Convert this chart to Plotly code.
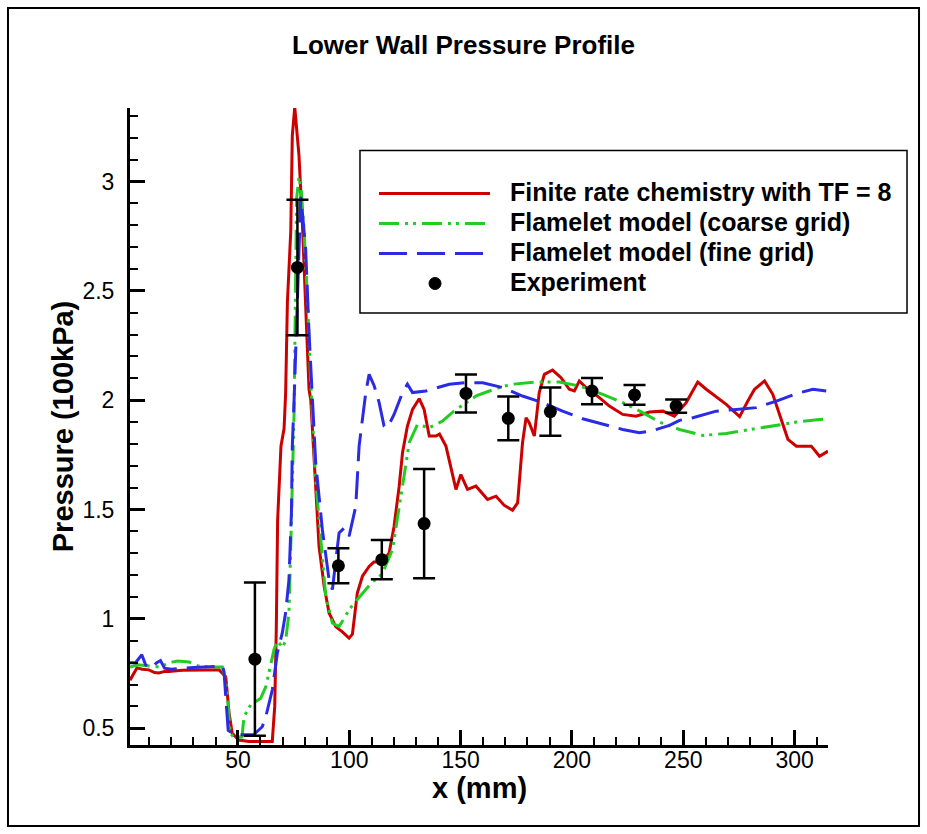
import plotly.graph_objects as go

# ---------------- data ----------------
red_x = [1.5, 3, 4.6, 7, 10, 12.5, 14.5, 17, 19, 25, 31, 36, 41.5, 44.5, 46, 47.4, 50.4, 55, 60, 65.4,
         66.5, 67.2, 67.8, 69.3, 70.7, 71.4, 72.2, 73.7, 74.4, 75.5, 77.4, 78.9, 80.4, 81.9, 82.7, 84.2,
         86.4, 88.7, 90.9, 93.9, 97, 99.9, 101.4, 103.6, 105.9, 108.9, 111, 114.9, 117.9, 120.1, 122.4,
         123.9, 126.1, 128.4, 131.4, 133.6, 135.9, 138.9, 140.5, 143.4, 145.6, 147.9, 150.1, 153.1, 156.9,
         162.1, 165.9, 169.5, 173.3, 175.6, 177.8, 179.4, 180.8, 183.1, 185.3, 187.6, 191.3, 195.1, 198.8,
         201.1, 203.3, 206.3, 212.3, 216.8, 222.8, 228.8, 234.8, 240.8, 246, 251.3, 256.5, 260.3, 269.3,
         275.3, 279, 282, 286.5, 290.2, 294, 297, 300.8, 307.5, 311.2, 315]
red_y = [0.72, 0.745, 0.776, 0.77, 0.767, 0.755, 0.753, 0.76, 0.76, 0.765, 0.767, 0.766, 0.767, 0.736, 0.57,
         0.477, 0.446, 0.44, 0.44, 0.44, 0.6, 0.95, 1.45, 1.79, 1.87, 2.03, 2.45, 2.77, 3.21, 3.34, 3.118,
         2.813, 2.431, 2.05, 2.0, 1.714, 1.332, 1.149, 1.027, 0.965, 0.94, 0.912, 0.93, 1.118, 1.195, 1.24,
         1.26, 1.26, 1.302, 1.423, 1.607, 1.76, 1.882, 1.958, 2.007, 1.958, 1.836, 1.836, 1.845, 1.79,
         1.698, 1.592, 1.66, 1.592, 1.607, 1.546, 1.561, 1.52, 1.497, 1.53, 1.806, 1.92, 1.897, 1.836,
         2.035, 2.118, 2.138, 2.103, 2.05, 2.042, 2.088, 2.058, 2.012, 1.973, 1.935, 1.927, 1.946, 1.95,
         1.927, 1.989, 2.083, 2.05, 1.981, 1.925, 1.996, 2.05, 2.088, 2.027, 1.912, 1.821, 1.79, 1.79,
         1.744, 1.767]

green_x = [1.5, 5, 10, 15, 19, 23, 28, 32, 38, 43, 44.5, 45.5, 46.5, 48, 51.8, 52.7, 55.7, 60.2, 62.5,
           64.7, 66.2, 67.7, 70, 71.4, 72.9, 73.7, 74.4, 75.2, 75.6, 76.3, 77.4, 78.5, 79.7, 81.2, 82.7,
           83.4, 84.9, 87.2, 89.4, 92.4, 95.4, 97.5, 99.9, 102, 105.9, 110.4, 113.4, 114.9, 119.4, 122.4,
           124.6, 126.9, 130.6, 135.9, 141.9, 147, 152.4, 157, 162.9, 168, 173.3, 183.9, 194.3, 203.3,
           213.8, 222.8, 231.8, 239.3, 248.3, 258.8, 269.3, 279.8, 290.2, 300.8, 311.2, 315]
green_y = [0.78, 0.79, 0.785, 0.78, 0.8, 0.808, 0.803, 0.785, 0.78, 0.78, 0.72, 0.62, 0.48, 0.46, 0.46,
           0.553, 0.607, 0.637, 0.69, 0.798, 0.86, 0.9, 0.87, 0.9, 1.028, 1.332, 1.637, 1.943, 2.3, 2.92,
           3.02, 2.95, 2.77, 2.46, 2.08, 1.943, 1.637, 1.363, 1.103, 0.981, 0.965, 1.0, 1.042, 1.07, 1.118,
           1.17, 1.19, 1.21, 1.317, 1.5, 1.653, 1.806, 1.889, 1.874, 1.905, 1.95, 1.989, 2.02, 2.042, 2.06,
           2.073, 2.083, 2.083, 2.065, 2.027, 1.989, 1.943, 1.9, 1.866, 1.839, 1.848, 1.866, 1.885, 1.9,
           1.912, 1.915]

blue_x = [1.5, 4, 6.8, 8.5, 11, 13.5, 15.2, 17, 20, 25, 30, 35, 40, 43, 43.7, 44.8, 45.6, 48, 52, 57,
          60.9, 62.5, 65.4, 67.7, 69.9, 71.4, 72.9, 74, 74.4, 75.2, 76.7, 77.4, 78.2, 79, 80.4, 81.9, 83.4,
          84.9, 87.9, 90.9, 92.4, 95.4, 97.7, 99.9, 102.9, 104.4, 107.4, 108.9, 111.2, 113.4, 115.6, 117.1,
          120.1, 123.9, 126.1, 128.4, 134.4, 144.9, 152, 159.9, 168.8, 177.8, 186.8, 195.8, 204.8, 213.8,
          222.8, 230.3, 236, 243.8, 248.3, 254.3, 264.8, 273.8, 282.8, 291.8, 300.8, 308.2, 314.2]
blue_y = [0.8, 0.8, 0.836, 0.79, 0.775, 0.8, 0.81, 0.775, 0.77, 0.775, 0.778, 0.78, 0.785, 0.785, 0.76,
          0.6, 0.49, 0.475, 0.47, 0.47, 0.507, 0.553, 0.675, 0.845, 0.936, 1.028, 1.18, 1.486, 1.79, 2.0,
          2.46, 2.77, 2.93, 2.85, 2.69, 2.31, 2.0, 1.714, 1.408, 1.18, 1.134, 1.393, 1.416, 1.378, 1.515,
          1.79, 2.035, 2.118, 2.065, 1.989, 1.882, 1.874, 1.935, 2.035, 2.073, 2.035, 2.042, 2.073, 2.08,
          2.08, 2.058, 2.019, 1.989, 1.95, 1.915, 1.889, 1.866, 1.851, 1.86, 1.885, 1.908, 1.92, 1.95,
          1.958, 1.966, 1.996, 2.03, 2.05, 2.042]

exp_x = [57.6, 76.7, 95.1, 114.6, 133.6, 152.4, 171.4, 190.3, 209.0, 228.1, 246.8]
exp_y = [0.816, 2.607, 1.243, 1.271, 1.436, 2.031, 1.917, 1.948, 2.042, 2.024, 1.973]
exp_err = [0.35, 0.31, 0.08, 0.09, 0.25, 0.087, 0.1, 0.11, 0.06, 0.045, 0.03]

series_names = ["Finite rate chemistry with TF = 8", "Flamelet model (coarse grid)",
                "Flamelet model (fine grid)", "Experiment"]
title_text = "Lower Wall Pressure Profile"
x_title = "x (mm)"
y_title = "Pressure (100kPa)"

# ---------------- styles ----------------
RED = "#cc0000"
GREEN = "#22cc22"
BLUE = "#2b2be6"
GREEN_DASH = "20px,6px,3px,5px,3px,6px"
BLUE_DASH = "28px,10px"
FONT = "Liberation Sans, Arial, sans-serif"

fig = go.Figure()
fig.add_trace(go.Scatter(x=red_x, y=red_y, mode="lines", name=series_names[0],
                         line=dict(color=RED, width=3), showlegend=False))
fig.add_trace(go.Scatter(x=green_x, y=green_y, mode="lines", name=series_names[1],
                         line=dict(color=GREEN, width=3, dash=GREEN_DASH), showlegend=False))
fig.add_trace(go.Scatter(x=blue_x, y=blue_y, mode="lines", name=series_names[2],
                         line=dict(color=BLUE, width=3, dash=BLUE_DASH), showlegend=False))
fig.add_trace(go.Scatter(x=exp_x, y=exp_y, mode="markers", name=series_names[3],
                         marker=dict(color="black", size=13, symbol="circle"),
                         error_y=dict(type="data", array=exp_err, visible=True, color="black",
                                      thickness=2.5, width=11),
                         showlegend=False))

# ---------------- custom legend (paper coordinates) ----------------
shapes = []
annotations = []
box_x0, box_x1, box_y0, box_y1 = 0.3295, 1.1132, 0.6782, 0.9333
shapes.append(dict(type="rect", xref="paper", yref="paper", x0=box_x0, x1=box_x1, y0=box_y0, y1=box_y1,
                   line=dict(color="black", width=1.5), fillcolor="white", layer="above"))
row_y = [0.8658, 0.8187, 0.7716, 0.7245]
samp_x0, samp_x1, text_x, mark_x = 0.3567, 0.5158, 0.541, 0.437
styles = [dict(color=RED, width=3), dict(color=GREEN, width=3, dash=GREEN_DASH),
          dict(color=BLUE, width=3, dash=BLUE_DASH)]
for i in range(3):
    shapes.append(dict(type="line", xref="paper", yref="paper", x0=samp_x0, x1=samp_x1,
                       y0=row_y[i], y1=row_y[i], line=styles[i], layer="above"))
shapes.append(dict(type="circle", xref="paper", yref="paper", xsizemode="pixel", ysizemode="pixel",
                   xanchor=mark_x, yanchor=row_y[3], x0=-6, x1=6, y0=-6, y1=6,
                   fillcolor="black", line=dict(color="black", width=1), layer="above"))
for i in range(4):
    annotations.append(dict(xref="paper", yref="paper", x=text_x, y=row_y[i] + 0.002,
                            xanchor="left", yanchor="middle", showarrow=False,
                            text="<b>" + series_names[i] + "</b>",
                            font=dict(family=FONT, size=25, color="black")))

# x-axis title placed as an annotation for exact position
annotations.append(dict(xref="paper", yref="paper", x=0.5, y=-0.068, xanchor="center", yanchor="middle",
                        showarrow=False, text="<b>" + x_title + "</b>",
                        font=dict(family=FONT, size=29, color="black")))

# outer frame
shapes.append(dict(type="rect", xref="paper", yref="paper", x0=-0.1748, x1=1.1304, y0=-0.1272, y1=1.157,
                   line=dict(color="black", width=2), layer="above"))

fig.update_layout(
    width=927, height=834,
    margin=dict(l=130, r=99, t=108, b=89),
    paper_bgcolor="white", plot_bgcolor="white",
    title=dict(text="<b>" + title_text + "</b>", x=0.5, xref="container", y=0.946,
               yref="container", xanchor="center", yanchor="middle",
               font=dict(family=FONT, size=26, color="black")),
    shapes=shapes, annotations=annotations,
    showlegend=False,
)
fig.update_xaxes(range=[1.5, 315], showgrid=False, zeroline=False, showline=True, linecolor="black",
                 linewidth=3, ticks="inside", ticklen=15, tickwidth=3, tickcolor="black",
                 tick0=0, dtick=50, tickfont=dict(family=FONT, size=23, color="black"),
                 ticklabelstandoff=-8,
                 minor=dict(ticks="inside", dtick=10, ticklen=8, tickwidth=1.5, tickcolor="black"))
fig.update_yaxes(range=[0.4235, 3.336], showgrid=False, zeroline=False, showline=True, linecolor="black",
                 linewidth=3, ticks="inside", ticklen=15, tickwidth=3, tickcolor="black",
                 tick0=0, dtick=0.5, tickfont=dict(family=FONT, size=23, color="black"),
                 ticklabelstandoff=8,
                 minor=dict(ticks="inside", dtick=0.1, ticklen=8, tickwidth=1.5, tickcolor="black"),
                 title=dict(text="<b>" + y_title + "</b>", font=dict(family=FONT, size=29, color="black"),
                            standoff=1))

fig.write_html("out.html")
